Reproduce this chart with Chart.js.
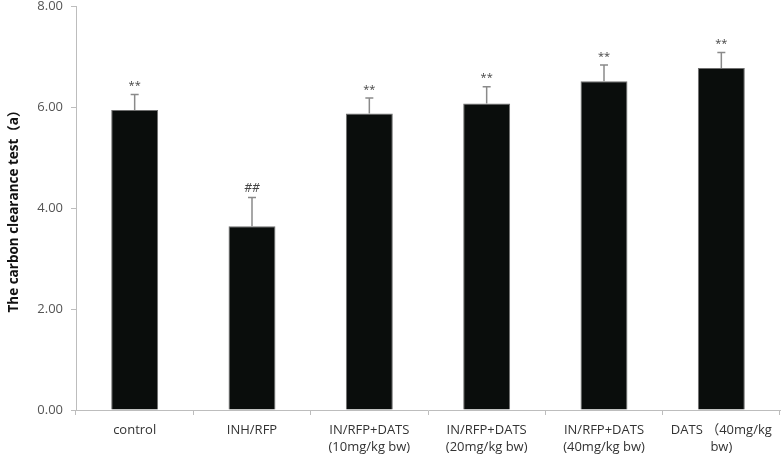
<!DOCTYPE html>
<html>
<head>
<meta charset="utf-8">
<script src="https://cdn.jsdelivr.net/npm/chart.js@4"></script>
<style>
  body { margin: 0; background: #fff; }
  #wrap { width: 782px; height: 459px; }
</style>
</head>
<body>
<div id="wrap"><canvas id="chart" width="782" height="459"></canvas></div>
<script>
// group labels (multi-line where the original wraps)
const groups = [
  'control',
  'INH/RFP',
  ['IN/RFP+DATS', '(10mg/kg bw)'],
  ['IN/RFP+DATS', '(20mg/kg bw)'],
  ['IN/RFP+DATS', '(40mg/kg bw)'],
  ['DATS （40mg/kg', 'bw)']
];
const means = [5.94, 3.64, 5.87, 6.07, 6.51, 6.77];   // bar heights
const errors = [0.31, 0.57, 0.31, 0.33, 0.32, 0.31];  // upper error
const marks = ['**', '##', '**', '**', '**', '**'];   // significance marks
const yTicks = [0, 2, 4, 6, 8];

const fontFamily = '"Open Sans", "Noto Sans CJK SC", sans-serif';

// draws the upper error bars and the marks above them
const errorBarPlugin = {
  id: 'errorBars',
  afterDatasetsDraw(chart) {
    const ctx = chart.ctx;
    const y = chart.scales.y;
    const meta = chart.getDatasetMeta(0);
    ctx.save();
    meta.data.forEach((bar, i) => {
      const top = y.getPixelForValue(means[i]);
      const errTop = y.getPixelForValue(means[i] + errors[i]);
      ctx.strokeStyle = '#8a8a8a';
      ctx.lineWidth = 1.5;
      ctx.beginPath();
      ctx.moveTo(bar.x, top);
      ctx.lineTo(bar.x, errTop);
      ctx.moveTo(bar.x - 4, errTop);
      ctx.lineTo(bar.x + 4, errTop);
      ctx.stroke();

      ctx.fillStyle = '#444';
      ctx.font = (marks[i] === '##' ? 'italic 12px ' : '11px ') + fontFamily;
      ctx.textAlign = 'center';
      ctx.textBaseline = 'bottom';
      ctx.fillText(marks[i], bar.x, errTop - 3);
    });
    ctx.restore();
  }
};

const chart = new Chart(document.getElementById('chart'), {
  type: 'bar',
  data: {
    labels: groups,
    datasets: [{
      data: means,
      backgroundColor: '#0a0d0c',
      borderColor: '#6f6f6f',
      borderWidth: 1,
      categoryPercentage: 1,
      barPercentage: 0.4
    }]
  },
  options: {
    responsive: false,
    animation: false,
    layout: { padding: { top: 0, right: 2, left: 0, bottom: 0 } },
    plugins: {
      legend: { display: false },
      tooltip: { enabled: false }
    },
    scales: {
      x: {
        grid: { drawOnChartArea: false, drawTicks: true, tickLength: 5, color: '#bdbdbd', offset: true },
        border: { display: true, color: '#bdbdbd' },
        ticks: {
          color: '#333',
          padding: 7,
          maxRotation: 0,
          autoSkip: false,
          font: { family: fontFamily, size: 13, lineHeight: 1.3 }
        },
        afterFit(scale) { scale.height = 49; }
      },
      y: {
        min: 0,
        max: 8,
        afterBuildTicks(scale) { scale.ticks = yTicks.map(v => ({ value: v })); },
        grid: { drawOnChartArea: false, drawTicks: true, tickLength: 5, color: '#bdbdbd' },
        border: { display: true, color: '#bdbdbd' },
        ticks: {
          color: '#555',
          padding: 8,
          font: { family: fontFamily, size: 13 },
          callback: v => Number(v).toFixed(2)
        },
        title: {
          display: true,
          text: 'The carbon clearance test（a）',
          color: '#111',
          padding: { top: 6, bottom: 0 },
          font: { family: fontFamily, size: 13.5, weight: 'bold' }
        },
        afterFit(scale) {
          scale.width = 76;
          scale.paddingTop = 6;
        }
      }
    }
  },
  plugins: [errorBarPlugin]
});
</script>
</body>
</html>
